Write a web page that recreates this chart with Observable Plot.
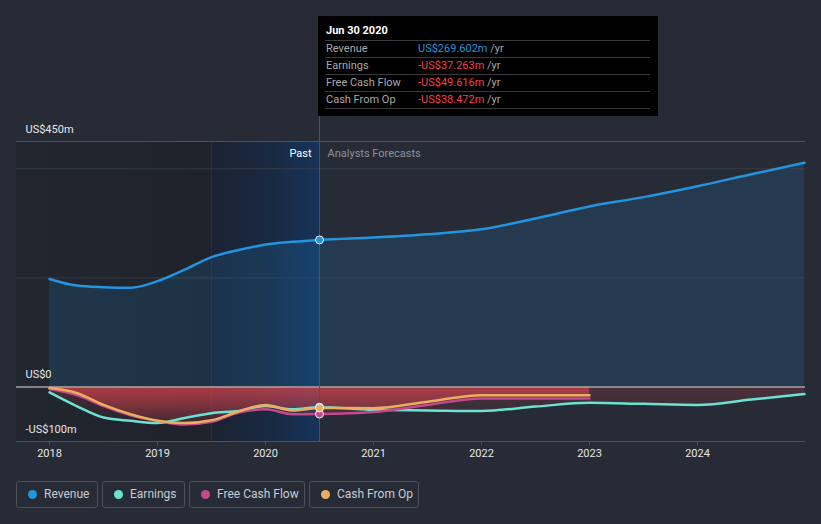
<!DOCTYPE html>
<html><head><meta charset="utf-8">
<script src="https://cdn.jsdelivr.net/npm/d3@7"></script>
<script src="https://cdn.jsdelivr.net/npm/@observablehq/plot@0.6"></script>
<style>
html,body{margin:0;padding:0;background:#262b36;}
#wrap{position:relative;width:821px;height:524px;background:#262b36;overflow:hidden;font-family:Roboto,"Open Sans",sans-serif;}
#chart{position:absolute;left:0;top:0;}
#tip{position:absolute;left:318px;top:16px;width:340px;height:100px;background:#000;font-size:11px;color:#fff;}
#tip .title{position:absolute;left:8px;top:8px;font-weight:bold;font-size:11px;}
#tip .row{position:absolute;left:7px;width:325px;height:17px;border-top:1px solid #3a3a3a;}
#tip .row .lab{position:absolute;left:1px;top:0px;color:#a8a8a8;line-height:15px;}
#tip .row .val{position:absolute;left:93px;top:0px;line-height:15px;}
#tip .row .val span{color:#a8a8a8;}
#tip .last{position:absolute;left:7px;width:325px;top:92px;border-top:1px solid #3a3a3a;}
.lg{position:absolute;top:481px;height:25px;border:1px solid #4b515c;border-radius:3px;color:#c9ccd1;font-size:12px;line-height:25px;}
.lg i{position:absolute;left:11px;top:8px;width:9px;height:9px;border-radius:50%;}
.lg b{position:absolute;left:27px;top:0;font-weight:normal;white-space:nowrap;}
</style></head>
<body>
<div id="wrap">
  <div id="chart"></div>
  <div id="tip"></div>
  <div id="legend"></div>
</div>
<script>
// ---- data ----
const revYears = [2018.0, 2018.25, 2018.5, 2018.75, 2019.0, 2019.25, 2019.5, 2019.75, 2020.0, 2020.25, 2020.5, 2021.0, 2021.5, 2022.0, 2022.5, 2023.0, 2023.5, 2024.0, 2024.5, 2024.99];
const revenue  = [198, 186, 183, 182, 194, 215, 238, 251, 261, 266, 269.602, 274, 280, 289, 309, 331, 348, 368, 390, 411];
const earnYears = [2018.0, 2018.25, 2018.5, 2018.75, 2019.0, 2019.25, 2019.5, 2019.75, 2020.0, 2020.25, 2020.5, 2021.0, 2021.5, 2022.0, 2022.5, 2023.0, 2023.5, 2024.0, 2024.5, 2024.99];
const earnings  = [-10, -35, -56, -62, -66, -57, -48, -44, -35, -41, -37.263, -42, -43, -44, -36, -29, -31, -33, -23, -13];
const cashYears = [2018.0, 2018.25, 2018.5, 2018.75, 2019.0, 2019.25, 2019.5, 2019.75, 2020.0, 2020.25, 2020.5, 2021.0, 2021.5, 2022.0, 2022.5, 2023.0];
const freeCashFlow = [-4, -15, -35, -52, -62, -69, -64, -47, -41, -50, -49.616, -46, -33, -21, -21, -21];
const cashFromOp   = [-2, -11, -33, -50, -62, -66, -61, -45, -33, -43, -38.472, -39, -27, -15, -15, -15];
const yearTicks = [2018, 2019, 2020, 2021, 2022, 2023, 2024];
const yLabels = [{v: 450, t: "US$450m"}, {v: 0, t: "US$0"}, {v: -100, t: "-US$100m"}];
const seriesNames = ["Revenue", "Earnings", "Free Cash Flow", "Cash From Op"];
const seriesColors = ["#2394df", "#6ce3d0", "#c4488b", "#eaae5e"];
const tipDate = "Jun 30 2020";
const tipYear = 2020.5;
const tipValues = ["US$269.602m", "-US$37.263m", "-US$49.616m", "-US$38.472m"];
const tipColors = ["#2394df", "#f0424a", "#f0424a", "#f0424a"];

const rows = (xs, ys) => xs.map((x, i) => ({x, y: ys[i]}));
const revRows = rows(revYears, revenue);
const earnRows = rows(earnYears, earnings);
const fcfRows = rows(cashYears, freeCashFlow);
const cfoRows = rows(cashYears, cashFromOp);

const x0 = 2017.694, x1 = 2025.0;
const curve = "monotone-x";

const chart = Plot.plot({
  width: 821, height: 470,
  marginLeft: 16, marginRight: 16, marginTop: 141, marginBottom: 29,
  style: {background: "transparent", fontFamily: "Roboto, 'Open Sans', sans-serif", fontSize: "11px", color: "#e6e6e6", overflow: "visible"},
  x: {domain: [x0, x1], axis: null},
  y: {domain: [-100, 450], axis: null},
  marks: [
    Plot.rect([{a: x0, b: 2019.5}], {x1: "a", x2: "b", y1: -100, y2: 450, fill: "url(#darkGrad)"}),
    Plot.rect([{a: 2019.5, b: tipYear}], {x1: "a", x2: "b", y1: -100, y2: 450, fill: "url(#pastGrad)"}),
    Plot.ruleX([2019.5], {y1: -100, y2: 450, stroke: "#1d3150", strokeWidth: 1}),
    Plot.ruleY([200, 400], {stroke: "#363c47"}),
    Plot.ruleY([450], {stroke: "#4c525c"}),
    Plot.ruleY([-100], {stroke: "#4c525c"}),
    Plot.areaY(revRows, {x: "x", y: "y", fill: "#2394df", fillOpacity: 0.15, curve}),
    Plot.areaY(earnRows, {x: "x", y: "y", fill: "url(#negGradE)", curve}),
    Plot.areaY(fcfRows, {x: "x", y: "y", fill: "url(#negGrad)", curve}),
    Plot.areaY(cfoRows, {x: "x", y: "y", fill: "url(#negGrad)", curve}),
    Plot.ruleY([0], {stroke: "#a3a3a3", strokeWidth: 1.5}),
    Plot.ruleX([tipYear], {y1: -100, y2: 496, stroke: "#1f5cab", strokeWidth: 1}),
    Plot.line(earnRows, {x: "x", y: "y", stroke: seriesColors[1], strokeWidth: 2.5, curve}),
    Plot.line(fcfRows, {x: "x", y: "y", stroke: seriesColors[2], strokeWidth: 2.5, curve}),
    Plot.line(cfoRows, {x: "x", y: "y", stroke: seriesColors[3], strokeWidth: 2.5, curve}),
    Plot.line(revRows, {x: "x", y: "y", stroke: seriesColors[0], strokeWidth: 2.5, curve}),
    Plot.dot([{x: tipYear, y: freeCashFlow[10], c: seriesColors[2]}, {x: tipYear, y: earnings[10], c: seriesColors[1]}, {x: tipYear, y: cashFromOp[10], c: seriesColors[3]}, {x: tipYear, y: revenue[10], c: seriesColors[0]}],
      {x: "x", y: "y", fill: "c", r: 4, stroke: "#e8eef5", strokeWidth: 1}),
    Plot.text(yLabels, {x: x0, y: "v", text: "t", dx: 9, dy: -12, textAnchor: "start", fill: "#e8e8e8", fontSize: 11}),
    Plot.text(["Past"], {x: tipYear, y: 428, text: d => d, dx: -8, textAnchor: "end", fill: "#ffffff", fontSize: 11}),
    Plot.text(["Analysts Forecasts"], {x: tipYear, y: 428, text: d => d, dx: 8, textAnchor: "start", fill: "#8d9199", fontSize: 11}),
    Plot.axisX({ticks: yearTicks, tickFormat: d => String(d), tickSize: 4, tickPadding: 4, stroke: "#4c525c", fill: "#e6e6e6", fontSize: 11})
  ]
});

const ns = "http://www.w3.org/2000/svg";
const defs = document.createElementNS(ns, "defs");
defs.innerHTML = `
<linearGradient id="negGrad" x1="0" y1="0" x2="0" y2="1">
  <stop offset="0" stop-color="#e8454d" stop-opacity="0.38"/>
  <stop offset="1" stop-color="#e8454d" stop-opacity="0.06"/>
</linearGradient>
<linearGradient id="negGradE" x1="0" y1="0" x2="0" y2="1">
  <stop offset="0" stop-color="#e8454d" stop-opacity="0.2"/>
  <stop offset="1" stop-color="#e8454d" stop-opacity="0.04"/>
</linearGradient>
<linearGradient id="darkGrad" x1="0" y1="0" x2="1" y2="0">
  <stop offset="0" stop-color="#22262f"/>
  <stop offset="1" stop-color="#1e222b"/>
</linearGradient>
<linearGradient id="pastGrad" x1="0" y1="0" x2="1" y2="0">
  <stop offset="0" stop-color="#1b2232"/>
  <stop offset="0.5" stop-color="#19293f"/>
  <stop offset="1" stop-color="#163359"/>
</linearGradient>`;
chart.insertBefore(defs, chart.firstChild);
document.getElementById("chart").appendChild(chart);

// tooltip
const tip = document.getElementById("tip");
let html = `<div class="title">${tipDate}</div>`;
seriesNames.forEach((n, i) => {
  html += `<div class="row" style="top:${24 + i * 17}px"><div class="lab">${n}</div><div class="val" style="color:${tipColors[i]}">${tipValues[i]} <span>/yr</span></div></div>`;
});
html += `<div class="last"></div>`;
tip.innerHTML = html;

// legend
const lgLeft = [16, 102, 189, 309], lgWidth = [82, 83, 116, 110];
document.getElementById("legend").innerHTML = seriesNames.map((n, i) =>
  `<div class="lg" style="left:${lgLeft[i]}px;width:${lgWidth[i] - 2}px"><i style="background:${seriesColors[i]}"></i><b>${n}</b></div>`).join("");
</script>
</body></html>
